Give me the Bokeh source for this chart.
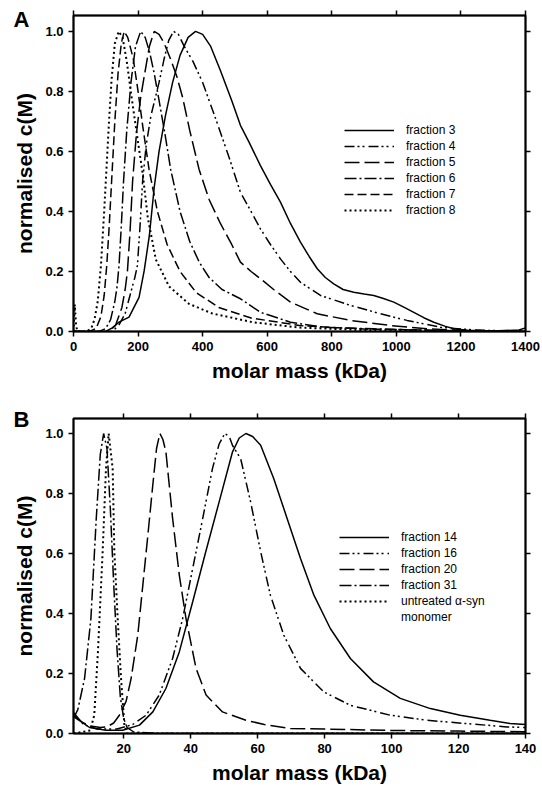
from bokeh.plotting import figure
from bokeh.models import Range1d, LinearAxis, FixedTicker, Legend, LegendItem, PrintfTickFormatter
from bokeh.layouts import column
from bokeh.embed import file_html
from bokeh.resources import INLINE

# ---------------- Panel A data (molar mass kDa, normalised c(M)) ----------------
a_f3_x = [100, 120, 141, 172, 203, 219, 235, 250, 265, 285, 307, 330, 355, 378, 400, 425, 455, 490, 517, 544,
          579, 610, 641, 672, 703, 730, 755, 780, 806, 835, 868, 900, 930, 960, 992, 1020, 1054, 1085, 1116,
          1150, 1178, 1220, 1300, 1380, 1400]
a_f3_y = [0.0, 0.012, 0.031, 0.048, 0.114, 0.203, 0.32, 0.48, 0.6, 0.72, 0.83, 0.92, 0.98, 1.0, 0.99, 0.95,
          0.87, 0.77, 0.687, 0.63, 0.553, 0.49, 0.431, 0.36, 0.298, 0.25, 0.209, 0.18, 0.159, 0.14, 0.131,
          0.125, 0.12, 0.11, 0.098, 0.083, 0.064, 0.046, 0.031, 0.018, 0.009, 0.004, 0.002, 0.005, 0.012]

a_f4_x = [0, 120, 140, 160, 175, 190, 198, 206, 214, 225, 240, 265, 281, 295, 310, 325, 343, 370, 400, 440,
          482, 517, 550, 579, 610, 641, 672, 703, 765, 858, 951, 1033, 1137, 1240, 1400]
a_f4_y = [0.0, 0.0, 0.02, 0.06, 0.12, 0.18, 0.22, 0.35, 0.5, 0.62, 0.72, 0.83, 0.91, 0.97, 1.0, 0.99, 0.95,
          0.9, 0.83, 0.71, 0.58, 0.464, 0.4, 0.342, 0.29, 0.242, 0.2, 0.164, 0.12, 0.087, 0.059, 0.037, 0.014,
          0.005, 0.0]

a_f5_x = [0, 110, 130, 150, 160, 167, 175, 183, 195, 208, 219, 235, 250, 265, 281, 300, 320, 338, 360, 389,
          420, 455, 490, 517, 550, 579, 620, 672, 755, 858, 982, 1096, 1200, 1400]
a_f5_y = [0.0, 0.0, 0.02, 0.08, 0.14, 0.2, 0.33, 0.5, 0.66, 0.78, 0.85, 0.95, 1.0, 0.99, 0.96, 0.91, 0.85,
          0.78, 0.67, 0.54, 0.44, 0.36, 0.29, 0.231, 0.2, 0.176, 0.14, 0.098, 0.059, 0.037, 0.02, 0.009, 0.003, 0.0]

a_f6_x = [0, 80, 100, 115, 128, 135, 141, 148, 155, 165, 178, 192, 208, 222, 236, 250, 265, 283, 301, 330,
          360, 390, 420, 460, 517, 579, 672, 775, 930, 1100, 1400]
a_f6_y = [0.0, 0.0, 0.01, 0.04, 0.1, 0.15, 0.22, 0.35, 0.5, 0.67, 0.83, 0.95, 1.0, 0.98, 0.93, 0.86, 0.77,
          0.66, 0.54, 0.4, 0.3, 0.23, 0.18, 0.14, 0.109, 0.064, 0.031, 0.014, 0.009, 0.004, 0.0]

a_f7_x = [0, 50, 70, 85, 95, 103, 110, 118, 128, 138, 148, 157, 168, 185, 200, 215, 234, 260, 290, 330,
          380, 450, 550, 700, 900, 1400]
a_f7_y = [0.0, 0.0, 0.01, 0.05, 0.12, 0.22, 0.34, 0.5, 0.7, 0.86, 0.96, 1.0, 0.98, 0.91, 0.8, 0.68, 0.54,
          0.4, 0.29, 0.2, 0.13, 0.08, 0.045, 0.02, 0.008, 0.0]

a_f8_x = [0, 4, 8, 12, 40, 55, 65, 75, 85, 95, 103, 110, 118, 128, 140, 152, 165, 180, 200, 215, 230, 255,
          296, 358, 430, 554, 700, 900, 1100, 1400]
a_f8_y = [0.0, 0.09, 0.02, 0.0, 0.0, 0.01, 0.04, 0.1, 0.22, 0.4, 0.56, 0.7, 0.84, 0.96, 1.0, 0.98, 0.9,
          0.78, 0.63, 0.52, 0.38, 0.24, 0.15, 0.092, 0.06, 0.031, 0.013, 0.005, 0.002, 0.0]

a_labels = ["fraction 3", "fraction 4", "fraction 5", "fraction 6", "fraction 7", "fraction 8"]
a_xticks = [0, 200, 400, 600, 800, 1000, 1200, 1400]

# ---------------- Panel B data ----------------
b_f14_x = [5, 5.8, 9.8, 14.7, 19.7, 24.7, 28.7, 32.6, 36.6, 40.6, 44.5, 48.5, 52.5, 54.5, 56.5, 58.5, 60.9,
           64.8, 68.8, 72.8, 76.8, 81.7, 87.7, 94.6, 102.6, 111.6, 120.5, 129.4, 135.4, 140]
b_f14_y = [0.06, 0.05, 0.02, 0.011, 0.011, 0.028, 0.072, 0.15, 0.272, 0.439, 0.606, 0.772, 0.939, 0.985,
           1.0, 0.99, 0.961, 0.85, 0.717, 0.583, 0.461, 0.35, 0.25, 0.172, 0.117, 0.083, 0.061, 0.044, 0.033, 0.03]

b_f16_x = [5, 8, 12, 18, 22.7, 26.7, 30.6, 34.6, 37.6, 40.6, 43.6, 46.5, 48.5, 50.2, 51.5, 52.5, 54.9, 57.9,
           60.9, 63.8, 67.8, 72.8, 79.7, 87.7, 99.6, 110.6, 122.5, 134.4, 140]
b_f16_y = [0.07, 0.03, 0.015, 0.015, 0.03, 0.061, 0.128, 0.25, 0.383, 0.55, 0.717, 0.883, 0.965, 1.0, 0.99,
           0.96, 0.917, 0.772, 0.606, 0.461, 0.328, 0.217, 0.139, 0.094, 0.061, 0.044, 0.033, 0.022, 0.02]

b_f20_x = [5, 8, 10, 13, 15, 17, 18.7, 20.7, 22.2, 24.2, 25.7, 27.2, 28.7, 29.8, 30.8, 31.7, 32.6, 34.6,
           36.6, 38.6, 41.6, 44.6, 49.5, 56.5, 62, 69.8, 80, 100, 120, 140]
b_f20_y = [0.06, 0.035, 0.025, 0.02, 0.022, 0.035, 0.061, 0.107, 0.183, 0.328, 0.494, 0.66, 0.83, 0.95,
           1.0, 0.98, 0.939, 0.717, 0.528, 0.383, 0.217, 0.128, 0.072, 0.044, 0.03, 0.017, 0.015, 0.01,
           0.008, 0.006]

b_f31_x = [5, 6.3, 8.3, 10.2, 11.8, 13.0, 14.0, 15.0, 16.0, 17.0, 18.0, 19.0, 20.0, 21.0, 23.0, 30.0, 140]
b_f31_y = [0.05, 0.08, 0.183, 0.383, 0.717, 0.93, 1.0, 0.95, 0.75, 0.5, 0.28, 0.12, 0.05, 0.02, 0.005, 0.0, 0.0]

b_mono_x = [5, 10, 11.2, 12.3, 13.7, 14.7, 15.5, 16.7, 17.2, 18.2, 19.2, 20.2, 21.0, 140]
b_mono_y = [0.0, 0.01, 0.061, 0.272, 0.605, 0.883, 1.0, 0.883, 0.605, 0.383, 0.183, 0.028, 0.0, 0.0]

b_labels = ["fraction 14", "fraction 16", "fraction 20", "fraction 31", "untreated \u03b1-syn", "monomer"]
b_xticks = [20, 40, 60, 80, 100, 120, 140]

y_ticks = [0.0, 0.2, 0.4, 0.6, 0.8, 1.0]

FONT = "Liberation Sans"
DASH_44 = "10 3 2 3 2 4"   # dash-dot-dot
DASH_LONG = "15 5"
DASH_DOT = "12 3 2 3"
DASH_MED = "9 4"
DOTS = "2 3"


def make_fig(letter, letter_standoff, height, x_range, y_range, xticks, border_top, border_bottom):
    p = figure(width=542, height=height, output_backend="svg", toolbar_location=None,
               x_range=Range1d(*x_range), y_range=Range1d(*y_range),
               min_border_left=73, min_border_right=17,
               min_border_top=border_top, min_border_bottom=border_bottom)
    p.xgrid.visible = False
    p.ygrid.visible = False
    p.outline_line_color = "black"
    p.outline_line_width = 2
    p.background_fill_color = "white"
    p.border_fill_color = "white"
    for ax in (p.xaxis[0], p.yaxis[0]):
        ax.axis_line_width = 1.5
        ax.axis_line_color = "black"
        ax.major_tick_line_width = 1.5
        ax.major_tick_out = 5
        ax.major_tick_in = 0
        ax.minor_tick_line_color = None
        ax.major_label_text_font = FONT
        ax.major_label_text_font_style = "bold"
        ax.major_label_text_font_size = "13px"
        ax.major_label_text_color = "black"
        ax.axis_label_text_font = FONT
        ax.axis_label_text_font_style = "bold"
        ax.axis_label_text_font_size = "21px"
        ax.axis_label_text_color = "black"
    p.xaxis[0].ticker = FixedTicker(ticks=xticks)
    p.yaxis[0].ticker = FixedTicker(ticks=y_ticks)
    p.yaxis[0].formatter = PrintfTickFormatter(format="%.1f")
    p.xaxis[0].axis_label = "molar mass (kDa)"
    p.yaxis[0].axis_label = "normalised c(M)"
    p.xaxis[0].axis_label_standoff = 5
    p.yaxis[0].axis_label_standoff = 6
    # mirrored tick axes on top and right
    top = LinearAxis(ticker=FixedTicker(ticks=xticks), major_label_text_font_size="0px",
                     major_label_standoff=0, major_tick_out=5, major_tick_in=0,
                     major_tick_line_width=1.5, minor_tick_line_color=None, axis_line_width=1.5)
    right = LinearAxis(ticker=FixedTicker(ticks=y_ticks), major_label_text_font_size="0px",
                       major_label_standoff=0, major_tick_out=5, major_tick_in=0,
                       major_tick_line_width=1.5, minor_tick_line_color=None, axis_line_width=1.5)
    p.add_layout(top, "above")
    p.add_layout(right, "right")
    # panel letter as the (outermost) title, pulled down beside the frame
    p.title.text = letter
    p.title.align = "left"
    p.title.offset = -60
    p.title.vertical_align = "bottom"
    p.title.standoff = letter_standoff
    p.title.text_font = FONT
    p.title.text_font_style = "bold"
    p.title.text_font_size = "22px"
    p.title.text_color = "black"
    return p


def add_legend(p, items, loc):
    leg = Legend(items=items, location=loc, glyph_width=50, glyph_height=16, label_height=16,
                 label_standoff=12, spacing=0, padding=0, margin=0,
                 label_text_font=FONT, label_text_font_size="12px", label_text_color="black",
                 border_line_alpha=0, background_fill_alpha=0)
    p.add_layout(leg)


# ---------------- Panel A ----------------
pa = make_fig("A", -42, 392, (0, 1400), (0, 1.053), a_xticks, 15, 61)
ra = [
    pa.line(a_f3_x, a_f3_y, line_color="black", line_width=1.5),
    pa.line(a_f4_x, a_f4_y, line_color="black", line_width=1.5, line_dash=DASH_44),
    pa.line(a_f5_x, a_f5_y, line_color="black", line_width=1.5, line_dash=DASH_LONG),
    pa.line(a_f6_x, a_f6_y, line_color="black", line_width=1.5, line_dash=DASH_DOT),
    pa.line(a_f7_x, a_f7_y, line_color="black", line_width=1.5, line_dash=DASH_MED),
    pa.line(a_f8_x, a_f8_y, line_color="black", line_width=2, line_dash=DOTS),
]
add_legend(pa, [LegendItem(label=l, renderers=[r]) for l, r in zip(a_labels, ra)], (271, 113))

# ---------------- Panel B ----------------
pb = make_fig("B", -36, 394, (5, 140), (0, 1.05), b_xticks, 26, 53)
rb = [
    pb.line(b_f14_x, b_f14_y, line_color="black", line_width=1.5),
    pb.line(b_f16_x, b_f16_y, line_color="black", line_width=1.5, line_dash=DASH_44),
    pb.line(b_f20_x, b_f20_y, line_color="black", line_width=1.5, line_dash=DASH_LONG),
    pb.line(b_f31_x, b_f31_y, line_color="black", line_width=1.5, line_dash=DASH_DOT),
    pb.line(b_mono_x, b_mono_y, line_color="black", line_width=2, line_dash=DOTS),
    pb.line([], [], line_alpha=0),
]
add_legend(pb, [LegendItem(label=l, renderers=[r]) for l, r in zip(b_labels, rb)], (266, 108))

layout = column(pa, pb, spacing=0)
open("out.html", "w").write(file_html(layout, INLINE))
